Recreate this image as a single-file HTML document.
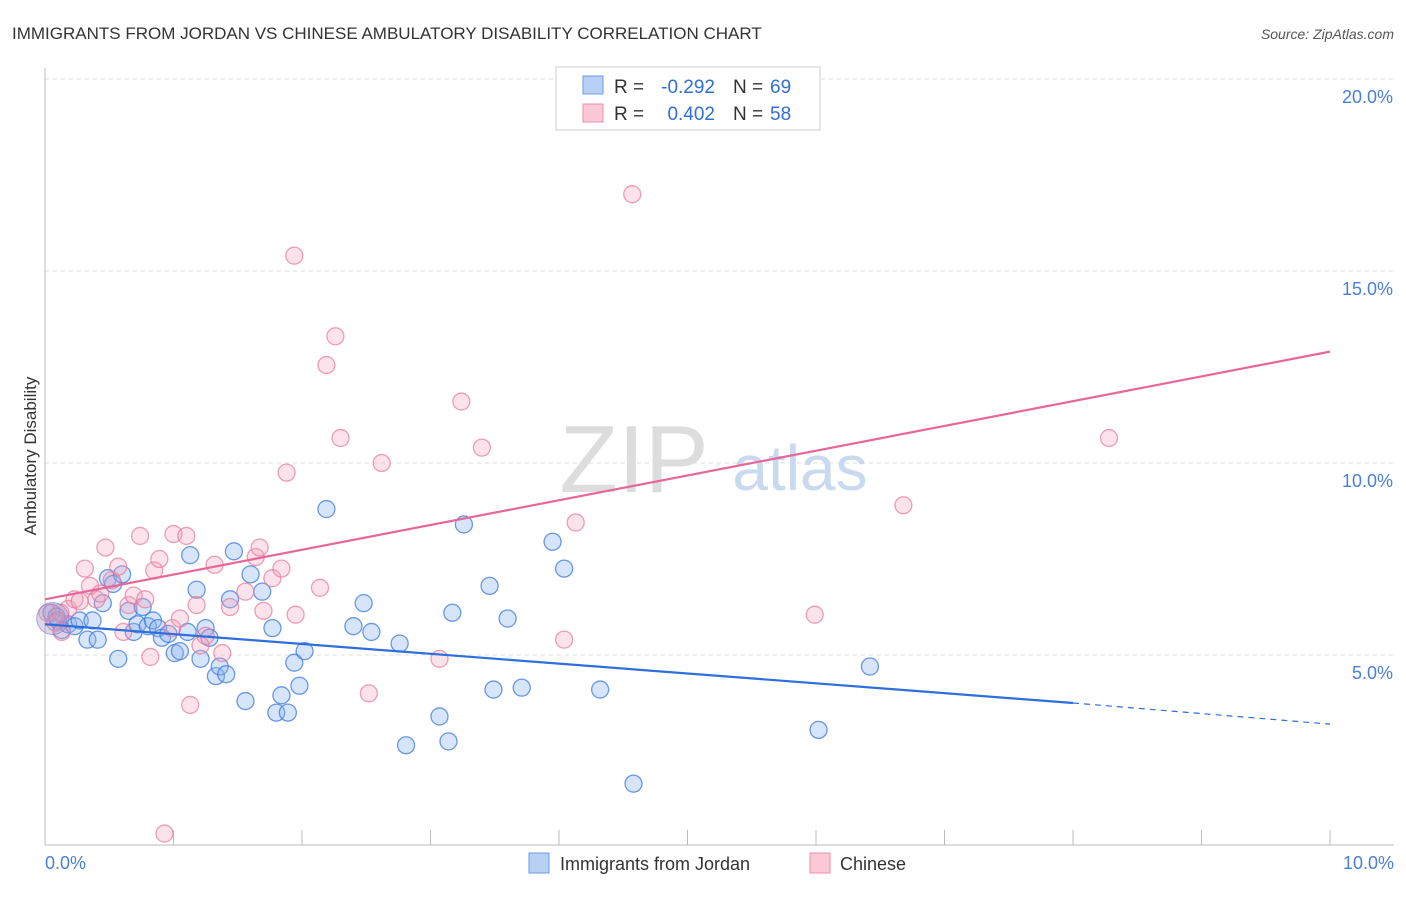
<!DOCTYPE html>
<html><head><meta charset="utf-8"><style>
body{margin:0;background:#fff;font-family:"Liberation Sans",sans-serif;}
svg text{font-family:"Liberation Sans",sans-serif;}
</style></head><body>
<svg width="1406" height="892" xmlns="http://www.w3.org/2000/svg">
<text x="12" y="39" font-size="17" fill="#333">IMMIGRANTS FROM JORDAN VS CHINESE AMBULATORY DISABILITY CORRELATION CHART</text>
<text x="1394" y="39" font-size="14" fill="#555" font-style="italic" text-anchor="end">Source: ZipAtlas.com</text>
<g id="grid"></g>
<line x1="45" y1="68" x2="45" y2="845" stroke="#bbb"/>
<line x1="45" y1="845" x2="1394" y2="845" stroke="#bbb"/>
<text x="634" y="492" font-size="96" fill="#ddd" font-family="Liberation Serif" text-anchor="middle">ZIP</text>
<text x="800" y="490" font-size="64" fill="#c9d9f0" text-anchor="middle">atlas</text>
<text x="36" y="456" font-size="17" fill="#333" text-anchor="middle" transform="rotate(-90 36 456)">Ambulatory Disability</text>
<text x="45" y="869" font-size="18" fill="#4a7fd8">0.0%</text>
<text x="1394" y="869" font-size="18" fill="#4a7fd8" text-anchor="end">10.0%</text>
<g id="points"></g>
<g id="lines"></g>
<g>
<rect x="556" y="67" width="264" height="63" fill="#fff" stroke="#ccc"/>
<rect x="583" y="76" width="20" height="18" fill="#b8d0f5" stroke="#6a9be0"/>
<rect x="583" y="104" width="20" height="18" fill="#fac8d6" stroke="#ec8fab"/>
<text x="614" y="93" font-size="19" fill="#333">R =</text>
<text x="715" y="93" font-size="19" fill="#2f6fd6" text-anchor="end">-0.292</text>
<text x="733" y="93" font-size="19" fill="#333">N =</text>
<text x="770" y="93" font-size="19" fill="#2f6fd6">69</text>
<text x="614" y="120" font-size="19" fill="#333">R =</text>
<text x="715" y="120" font-size="19" fill="#2f6fd6" text-anchor="end">0.402</text>
<text x="733" y="120" font-size="19" fill="#333">N =</text>
<text x="770" y="120" font-size="19" fill="#2f6fd6">58</text>
</g>
<g>
<rect x="529" y="853" width="20" height="20" fill="#b8d0f5" stroke="#6a9be0"/>
<text x="560" y="870" font-size="18" fill="#333">Immigrants from Jordan</text>
<rect x="810" y="853" width="20" height="20" fill="#fac8d6" stroke="#ec8fab"/>
<text x="840" y="870" font-size="18" fill="#333">Chinese</text>
</g>
</svg>
<script>
const yTicks=[5,10,15,20];
const yTickLabels=["5.0%","10.0%","15.0%","20.0%"];
const xTicks=[0,1,2,3,4,5,6,7,8,9,10];
const blueX=[0.05,0.10,0.13,0.18,0.23,0.27,0.33,0.37,0.41,0.45,0.49,0.53,0.57,0.60,0.65,0.69,0.72,0.76,0.80,0.84,0.88,0.91,0.96,1.01,1.05,1.11,1.13,1.18,1.21,1.25,1.28,1.33,1.36,1.41,1.47,1.44,1.56,1.60,1.69,1.77,1.80,1.84,1.89,1.94,1.98,2.02,2.19,2.40,2.48,2.54,2.76,2.81,3.07,3.14,3.17,3.26,3.46,3.49,3.60,3.71,3.95,4.04,4.32,4.58,6.02,6.42,0.09];
const blueY=[6.1,5.9,5.65,5.8,5.75,5.9,5.4,5.9,5.4,6.35,7.0,6.85,4.9,7.1,6.15,5.6,5.8,6.25,5.75,5.9,5.7,5.45,5.55,5.05,5.1,5.6,7.6,6.7,4.9,5.7,5.45,4.45,4.7,4.5,7.7,6.45,3.8,7.1,6.65,5.7,3.5,3.95,3.5,4.8,4.2,5.1,8.8,5.75,6.35,5.6,5.3,2.65,3.4,2.75,6.1,8.4,6.8,4.1,5.95,4.15,7.95,7.25,4.1,1.65,3.05,4.7,6.0];
const pinkX=[0.02,0.08,0.13,0.18,0.23,0.27,0.31,0.35,0.40,0.43,0.47,0.52,0.57,0.61,0.65,0.69,0.74,0.78,0.82,0.85,0.89,0.93,0.99,1.00,1.05,1.10,1.13,1.18,1.21,1.25,1.32,1.38,1.44,1.56,1.64,1.67,1.70,1.77,1.84,1.88,1.94,1.95,2.14,2.26,2.19,2.30,2.52,2.62,3.07,3.24,3.40,4.04,4.13,4.57,5.99,6.68,8.28,0.12];
const pinkY=[6.1,5.85,5.6,6.2,6.45,6.4,7.25,6.8,6.45,6.6,7.8,6.95,7.3,5.6,6.3,6.55,8.1,6.45,4.95,7.2,7.5,0.35,5.7,8.15,5.95,8.1,3.7,6.3,5.25,5.5,7.35,5.05,6.25,6.65,7.55,7.8,6.15,7.0,7.25,9.75,15.4,6.05,6.75,13.3,12.55,10.65,4.0,10.0,4.9,11.6,10.4,5.4,8.45,17.0,6.05,8.9,10.65,6.1];
const blueLine=[[0,5.8],[8.0,3.75]];
const blueDash=[[8.0,3.75],[10,3.2]];
const pinkLine=[[0,6.45],[10,12.9]];
const NS="http://www.w3.org/2000/svg";
function xs(v){return 45+v*128.5;}
function ys(v){return 847-v*38.4;}
const grid=document.getElementById('grid');
yTicks.forEach((t,i)=>{
 const l=document.createElementNS(NS,'line');
 l.setAttribute('x1',45);l.setAttribute('x2',1394);l.setAttribute('y1',ys(t));l.setAttribute('y2',ys(t));
 l.setAttribute('stroke','#ddd');l.setAttribute('stroke-dasharray','4,4');
 
 
 grid.appendChild(l);
 const tx=document.createElementNS(NS,'text');
 tx.setAttribute('x',1393);tx.setAttribute('y',ys(t)+24);tx.setAttribute('text-anchor','end');
 tx.setAttribute('font-size','18');tx.setAttribute('fill','#4a7fd8');tx.textContent=yTickLabels[i];
 
 
 grid.appendChild(tx);
});
xTicks.forEach(t=>{
 if(t===0)return;
 const l=document.createElementNS(NS,'line');
 l.setAttribute('x1',xs(t));l.setAttribute('x2',xs(t));l.setAttribute('y1',830);l.setAttribute('y2',845);
 l.setAttribute('stroke','#bbb');
 
 
 grid.appendChild(l);
});
const pts=document.getElementById('points');
function dots(X,Y,fill,stroke,name){
 X.forEach((x,i)=>{
  const c=document.createElementNS(NS,'circle');
  c.setAttribute('cx',xs(x));c.setAttribute('cy',ys(Y[i]));c.setAttribute('r',8.5);
  c.setAttribute('fill',fill);c.setAttribute('stroke',stroke);c.setAttribute('stroke-width','1.3');
  
  
  pts.appendChild(c);
 });
}
dots(blueX,blueY,'rgba(140,180,240,0.35)','rgba(60,120,220,0.75)','jordan-point');
dots(pinkX,pinkY,'rgba(245,160,185,0.3)','rgba(230,120,155,0.7)','chinese-point');
const big=document.createElementNS(NS,'circle');
big.setAttribute('cx',xs(0.06));big.setAttribute('cy',ys(5.95));big.setAttribute('r',16);
big.setAttribute('fill','rgba(170,150,200,0.4)');big.setAttribute('stroke','rgba(120,120,200,0.6)');


pts.appendChild(big);
const lines=document.getElementById('lines');
function ln(p,color,dash,name){
 const l=document.createElementNS(NS,'line');
 l.setAttribute('x1',xs(p[0][0]));l.setAttribute('y1',ys(p[0][1]));l.setAttribute('x2',xs(p[1][0]));l.setAttribute('y2',ys(p[1][1]));
 l.setAttribute('stroke',color);l.setAttribute('stroke-width',dash?1.2:2.2);
 if(dash)l.setAttribute('stroke-dasharray','6,5');
 
 
 lines.appendChild(l);
}
ln(blueLine,'#2e6fdc',false,'jordan-trend-line');
ln(blueDash,'#2e6fdc',true,'jordan-trend-extension');
ln(pinkLine,'#e8679a',false,'chinese-trend-line');
</script>
</body></html>
